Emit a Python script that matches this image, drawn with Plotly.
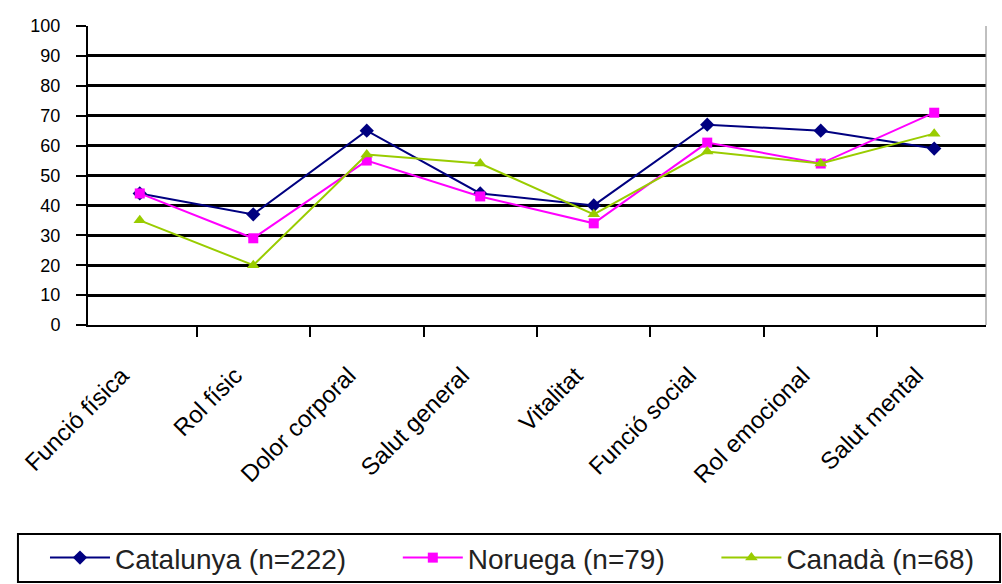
import plotly.graph_objects as go

dimensions = ["Funció física", "Rol físic", "Dolor corporal", "Salut general",
              "Vitalitat", "Funció social", "Rol emocional", "Salut mental"]

catalunya = [44, 37, 65, 44, 40, 67, 65, 59]
noruega = [44, 29, 55, 43, 34, 61, 54, 71]
canada = [35, 20, 57, 54, 37, 58, 54, 64]

NBSP = "\u00a0"
series = [
    ("Catalunya (n=222)" + NBSP * 6, catalunya, "#000080", "diamond", 11),
    ("Noruega (n=79)" + NBSP * 6, noruega, "#ff00ff", "square", 10),
    ("Canadà (n=68)", canada, "#99cc00", "triangle-up", 11),
]

fig = go.Figure()
for name, vals, color, symbol, size in series:
    fig.add_trace(go.Scatter(
        x=dimensions, y=vals, name=name, mode="lines+markers",
        line=dict(color=color, width=2),
        marker=dict(symbol=symbol, size=size, color=color),
    ))

fig.update_layout(
    width=1002, height=584,
    margin=dict(l=88, r=16, t=26, b=259, autoexpand=False),
    paper_bgcolor="white", plot_bgcolor="white",
    font=dict(family="Arial, Liberation Sans, sans-serif", color="black"),
    showlegend=True,
    legend=dict(
        orientation="h", x=-0.0479, y=-0.779, xanchor="left", yanchor="middle",
        borderwidth=0, bgcolor="rgba(0,0,0,0)",
        font=dict(size=28, color="#222222"),
        itemwidth=60,
    ),
)

fig.update_xaxes(
    type="category", tickson="boundaries",
    ticks="outside", ticklen=10, tickwidth=2, tickcolor="black",
    showline=True, linecolor="black", linewidth=2,
    showgrid=False, tickangle=-45,
    tickfont=dict(size=24, color="black"),
    ticklabelstandoff=25, ticklabelshift=-18,
)
fig.update_yaxes(
    range=[0, 100], dtick=10, tick0=0,
    ticks="outside", ticklen=10, tickwidth=2, tickcolor="black",
    showline=True, linecolor="black", linewidth=2,
    showgrid=True, gridcolor="black", gridwidth=2.5,
    tickfont=dict(size=18, color="black"),
    ticklabelstandoff=12,
    zeroline=False,
)

# light frame on the right edge of the plot area
fig.add_shape(type="line", xref="paper", yref="paper", x0=1, x1=1, y0=0, y1=1,
              line=dict(color="#808080", width=1))
# box around the legend
fig.add_shape(type="rect", xref="paper", yref="paper",
              x0=-0.078, x1=1.0156, y0=-0.8595, y1=-0.699,
              line=dict(color="black", width=2))

fig.write_html("out.html")
